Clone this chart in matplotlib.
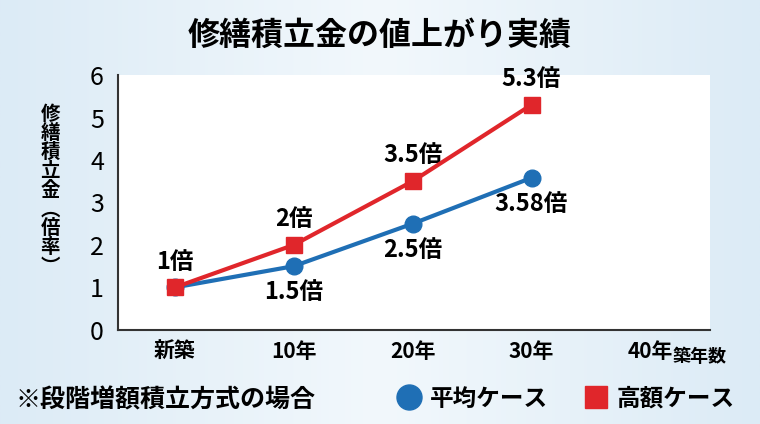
import matplotlib
matplotlib.use("Agg")
import matplotlib.pyplot as plt
import numpy as np

plt.rcParams['font.family'] = ['Noto Sans CJK JP', 'DejaVu Sans']

categories = ["新築", "10年", "20年", "30年", "40年"]
avg_vals = [1, 1.5, 2.5, 3.58]
high_vals = [1, 2, 3.5, 5.3]
avg_labels = ["", "1.5倍", "2.5倍", "3.58倍"]
high_labels = ["1倍", "2倍", "3.5倍", "5.3倍"]

fig = plt.figure(figsize=(7.6, 4.24), dpi=100)
bg = fig.add_axes([0, 0, 1, 1], zorder=-10)
grad = np.linspace(0, 1, 256).reshape(1, -1)
bg.imshow(grad, aspect='auto', cmap=matplotlib.colors.LinearSegmentedColormap.from_list('g', ['#dcebf6', '#f2f8fc', '#dcebf6']), extent=[0, 1, 0, 1])
bg.axis('off')

ax = fig.add_axes([0.155, 0.222, 0.779, 0.601])
ax.set_facecolor('white')
x = np.arange(len(categories))
ax.plot(x[:4], avg_vals, color='#1f6fb5', lw=3, marker='o', ms=12, zorder=3, label='平均ケース')
ax.plot(x[:4], high_vals, color='#e0262b', lw=3, marker='s', ms=11, zorder=4, label='高額ケース')
ax.set_xlim(-0.48, 4.5)
ax.set_ylim(0, 6)
ax.set_xticks(x)
ax.set_xticklabels(categories, fontsize=15, fontweight='bold')
ax.set_yticks(range(7))
ax.set_yticklabels([str(i) for i in range(7)], fontsize=18)
ax.tick_params(axis='x', length=0, pad=8)
ax.tick_params(axis='y', length=0, pad=10)
for s in ['top', 'right']:
    ax.spines[s].set_visible(False)
for s in ['left', 'bottom']:
    ax.spines[s].set_color('#333333')
    ax.spines[s].set_linewidth(1.5)

for i, t in enumerate(high_labels):
    ax.annotate(t, (x[i], high_vals[i]), xytext=(0, 10), textcoords='offset points',
                ha='center', va='bottom', fontsize=17, fontweight='bold')
for i, t in enumerate(avg_labels):
    if t:
        ax.annotate(t, (x[i], avg_vals[i]), xytext=(0, -10), textcoords='offset points',
                    ha='center', va='top', fontsize=17, fontweight='bold')

fig.text(0.5, 0.915, "修繕積立金の値上がり実績", ha='center', va='center', fontsize=23, fontweight='bold')
fig.text(0.885, 0.16, "築年数", ha='left', va='center', fontsize=13, fontweight='bold')
ylab = ["修", "繕", "積", "立", "金", "︵", "倍", "率", "︶"]
fig.text(0.066, 0.55, "\n".join(ylab), ha='center', va='center', fontsize=14, fontweight='bold', linespacing=1.0)
fig.text(0.02, 0.055, "※段階増額積立方式の場合", ha='left', va='center', fontsize=18, fontweight='bold')

h, l = ax.get_legend_handles_labels()
fig.legend(h, l, loc='center', bbox_to_anchor=(0.745, 0.06), ncol=2, frameon=False,
           prop={'size': 17, 'weight': 'bold'}, handlelength=1.0, columnspacing=1.5, handletextpad=0.4,
           markerscale=1.5)
for lh in fig.legends[0].legend_handles:
    lh.set_linestyle('none')

fig.savefig("out.png", dpi=100)
